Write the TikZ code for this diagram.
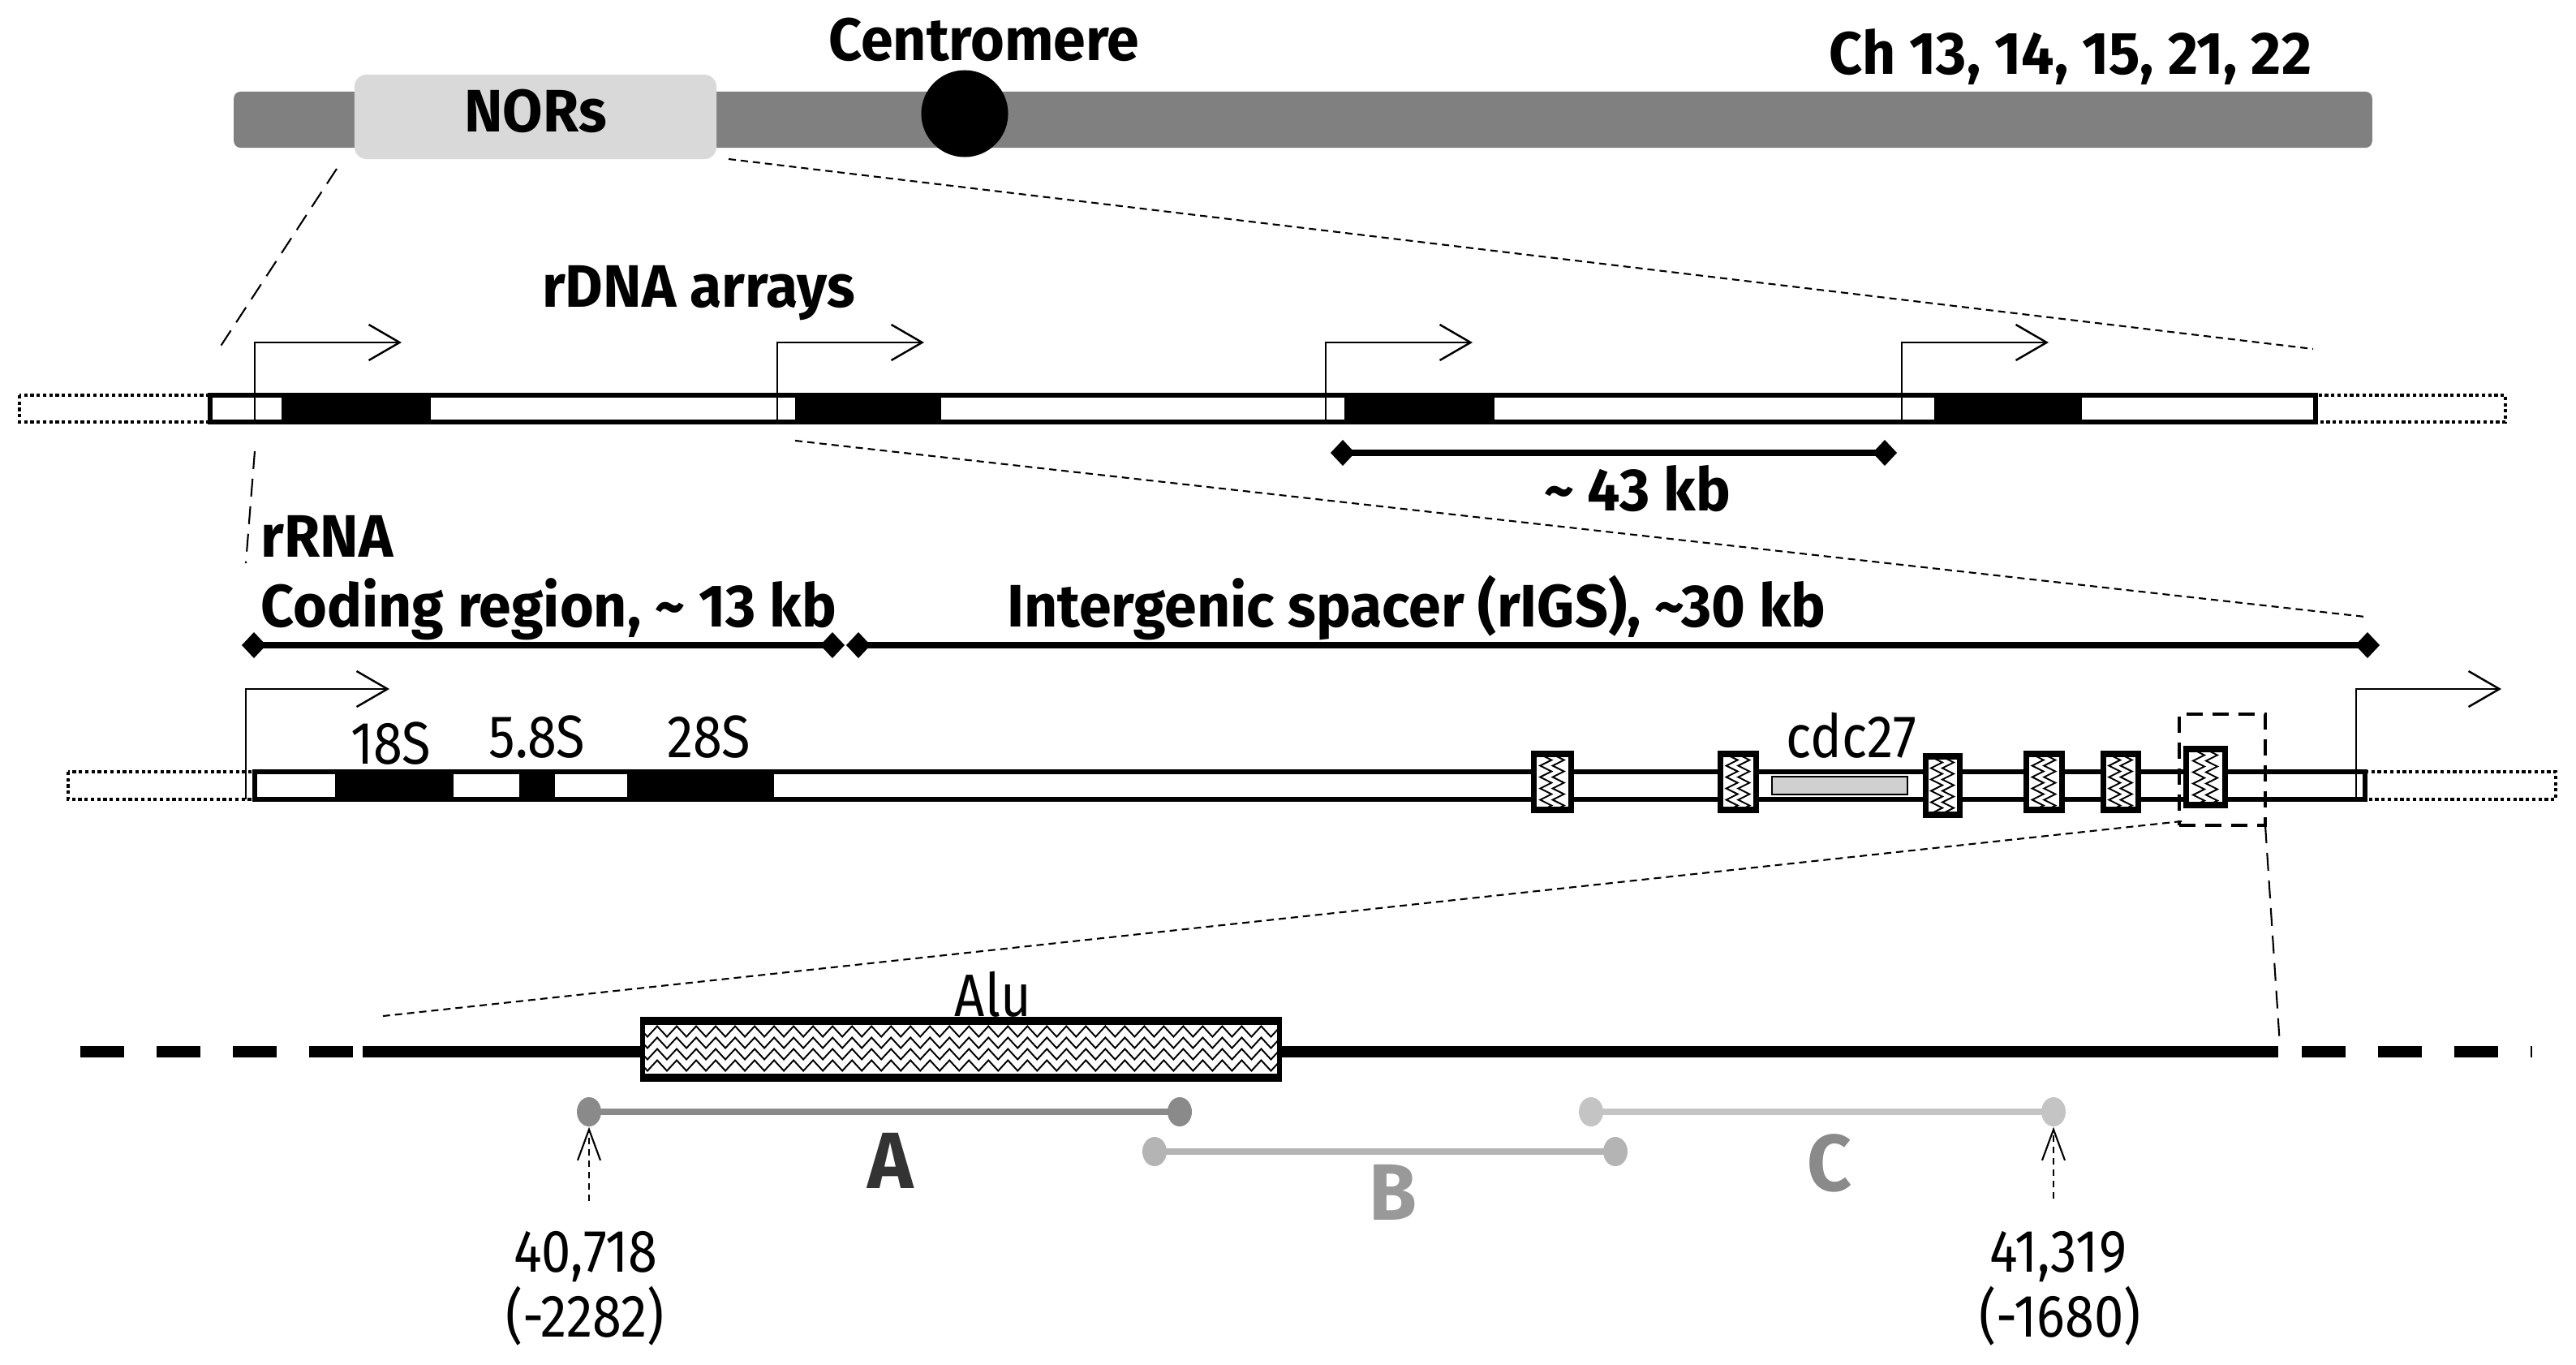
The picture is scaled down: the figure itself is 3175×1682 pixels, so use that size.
\documentclass[tikz,border=0pt]{standalone}
\usepackage{fontspec}
\setmainfont[FakeStretch=0.88]{Fira Sans}
\newfontfamily\boldf[FakeStretch=0.97]{Fira Sans}
\usetikzlibrary{arrows.meta,decorations.pathmorphing,shapes.geometric}
\definecolor{chrgray}{HTML}{808080}
\definecolor{norgray}{HTML}{D9D9D9}
\definecolor{cdcgray}{HTML}{D0D0D0}
\definecolor{segA}{HTML}{8A8A8A}
\definecolor{segB}{HTML}{B4B4B4}
\definecolor{segC}{HTML}{C4C4C4}
\definecolor{labA}{HTML}{333333}
\definecolor{labB}{HTML}{999999}
\definecolor{labC}{HTML}{8A8A8A}
\newcommand\myhatch[5]{%
  \fill[white] (#1,#2) rectangle (#3,#4);
  \begin{scope}
    \clip (#1,#2) rectangle (#3,#4);
    \draw[line width=0.55pt, decorate, decoration={zigzag, segment length=0.14cm, amplitude=0.07cm}]
      ({#1+(#3-#1)/3},{#2-10}) -- ({#1+(#3-#1)/3},{#4+10});
    \draw[line width=0.55pt, decorate, decoration={zigzag, segment length=0.14cm, amplitude=0.07cm}]
      ({#1+2*(#3-#1)/3},{#2-10}) -- ({#1+2*(#3-#1)/3},{#4+10});
  \end{scope}
  \node[draw, line width=2pt, minimum width={(#3-#1)*0.01cm}, minimum height={(#4-#2)*0.01cm}, inner sep=0] (#5) at ({(#1+#3)/2},{(#2+#4)/2}) {};}
\begin{document}
\begin{tikzpicture}[x=0.01cm,y=-0.01cm,
  lbl/.style={font=\boldf\fontsize{21}{25}\selectfont\bfseries, inner sep=0},
  rlbl/.style={font=\fontsize{21}{25}\selectfont, inner sep=0},
  bigl/.style={font=\boldf\fontsize{28}{32}\selectfont\bfseries, inner sep=0},
  zoomline/.style={line width=0.6pt, dash pattern=on 0.09cm off 0.06cm},
  longdash/.style={line width=0.6pt, dash pattern=on 0.22cm off 0.12cm},
  promoter/.style={line width=0.7pt, -{Straight Barb[length=0.38cm,width=0.44cm]}},
  measure/.style={line width=2pt, {Diamond[length=0.3cm,width=0.32cm]}-{Diamond[length=0.3cm,width=0.32cm]}},
  barframe/.style={draw=black, line width=1.5pt, fill=white},
  dotext/.style={draw=black, line width=1.2pt, densely dotted},
  segdot/.style={ellipse, minimum width=0.3cm, minimum height=0.36cm, inner sep=0},
  uparrow/.style={line width=0.6pt, dash pattern=on 0.08cm off 0.06cm, -{Straight Barb[length=0.38cm,width=0.28cm]}}
]
\useasboundingbox (0,0) rectangle (3175,1682);

% ---------- Row 1: chromosome ----------
\node[fill=chrgray, rounded corners=0.08cm, minimum width=26.34cm, minimum height=0.69cm, inner sep=0] (chr) at (1606,147.5) {};
\node[fill=norgray, rounded corners=0.15cm, minimum width=4.46cm, minimum height=1.04cm, inner sep=0] (nor) at (660,144) {};
\node[lbl, anchor=base] (nortxt) at (660,163) {NORs};
\node[circle, fill=black, minimum size=1.07cm, inner sep=0] (cen) at (1189,140) {};
\node[lbl, anchor=base] (centxt) at (1213,75) {Centromere};
\node[lbl, anchor=base] (chtxt) at (2552,92) {Ch 13, 14, 15, 21, 22};

\coordinate (z1a) at (415,208);
\coordinate (z1b) at (269,431);
\coordinate (z1c) at (898,196);
\coordinate (z1d) at (2851,430);
\draw[longdash] (z1a) -- (z1b);
\draw[zoomline] (z1c) -- (z1d);

% ---------- Row 2: rDNA arrays ----------
\node[lbl, anchor=base] (rdnatxt) at (861,378) {rDNA arrays};
\draw[dotext] (24,487) rectangle (259,520);
\draw[dotext] (2854,487) rectangle (3088,520);
\draw[barframe] (259,487) rectangle (2854,520);
\foreach \a/\b in {347/531, 980/1160, 1657/1842, 2384/2566}
  \fill (\a,485) rectangle (\b,522);
\foreach \x [count=\i] in {314,958,1634,2344} {
  \coordinate (pa\i) at (\x,520);
  \coordinate (pb\i) at (\x+181,422);
  \draw[promoter] (pa\i) |- (pb\i);
}
\coordinate (m43a) at (1640,558);
\coordinate (m43b) at (2338,558);
\draw[measure] (m43a) -- (m43b);
\node[lbl, anchor=base] (kb43) at (2018,629) {\textasciitilde\ 43 kb};

\coordinate (z2a) at (314,556);
\coordinate (z2b) at (303,694);
\coordinate (z2c) at (980,543);
\coordinate (z2d) at (2915,760);
\draw[longdash] (z2a) -- (z2b);
\draw[zoomline] (z2c) -- (z2d);

% ---------- Row 3: regions ----------
\node[lbl, anchor=base west] (rrna) at (321,686) {rRNA};
\node[lbl, anchor=base west] (coding) at (321,772) {Coding region, \textasciitilde\ 13 kb};
\node[lbl, anchor=base] (igs) at (1746,772) {Intergenic spacer (rIGS), \textasciitilde30 kb};
\coordinate (mca) at (298,795);
\coordinate (mcb) at (1041,795);
\coordinate (mia) at (1043,795);
\coordinate (mib) at (2933,795);
\draw[measure] (mca) -- (mcb);
\draw[measure] (mia) -- (mib);

% ---------- Row 4: unit ----------
\draw[dotext] (84,951) rectangle (314,985);
\draw[dotext] (2915,951) rectangle (3150,985);
\draw[barframe] (314,951) rectangle (2915,985);
\fill (413,949) rectangle (559,987);
\fill (640,949) rectangle (684,987);
\fill (773,949) rectangle (954,987);
\node[rlbl, anchor=base] (s18) at (482,941) {18S};
\node[rlbl, anchor=base] (s58) at (662,933) {5.8S};
\node[rlbl, anchor=base] (s28) at (874,933) {28S};
\draw[fill=cdcgray, line width=0.8pt] (2184,957) rectangle (2351,979);
\node[rlbl, anchor=base] (cdc) at (2282,933) {cdc27};
\myhatch{1890}{929}{1936}{998}{h1}
\myhatch{2120}{929}{2164}{998}{h2}
\myhatch{2373}{932}{2415}{1004}{h3}
\myhatch{2497}{929}{2541}{998}{h4}
\myhatch{2592}{929}{2635}{998}{h5}
\myhatch{2694}{923}{2742}{992}{h6}
\coordinate (q1a) at (303,985);
\coordinate (q1b) at (480,849);
\coordinate (q2a) at (2904,985);
\coordinate (q2b) at (3083,849);
\draw[promoter] (q1a) |- (q1b);
\draw[promoter] (q2a) |- (q2b);
\node[draw, line width=1.2pt, dash pattern=on 0.2cm off 0.12cm, minimum width=1.06cm, minimum height=1.37cm, inner sep=0] (zbox) at (2739,948.5) {};

\coordinate (z3a) at (2689,1012);
\coordinate (z3b) at (472,1252);
\coordinate (z3c) at (2792,1017);
\coordinate (z3d) at (2810,1288);
\draw[zoomline] (z3a) -- (z3b);
\draw[longdash] (z3c) -- (z3d);

% ---------- Row 5: detail ----------
\draw[line width=4pt] (447,1296) -- (2808,1296);
\draw[line width=4pt, dash pattern=on 0.54cm off 0.40cm] (99,1296) -- (435,1296);
\draw[line width=4pt, dash pattern=on 0.54cm off 0.40cm] (2837,1296) -- (3121,1296);
\fill[white] (792,1260) rectangle (1577,1326);
\begin{scope}
  \clip (792,1260) rectangle (1577,1326);
  \foreach \yy in {1271,1285,1299,1313}
    \draw[line width=0.55pt, decorate, decoration={zigzag, segment length=0.24cm, amplitude=0.065cm}] (780,\yy) -- (1600,\yy);
\end{scope}
\node[draw, line width=1.6pt, minimum width=7.85cm, minimum height=0.66cm, inner sep=0] (alu) at (1184.5,1293) {};
\draw[line width=2.2pt] (alu.north west) -- (alu.north east);
\draw[line width=2.2pt] (alu.south west) -- (alu.south east);
\node[rlbl, anchor=base] (alutxt) at (1224,1252) {Alu};

\node[segdot, fill=segA] (a1) at (726,1370) {};
\node[segdot, fill=segA] (a2) at (1454,1370) {};
\draw[segA, line width=2.3pt] (a1.center) -- (a2.center);
\node[segdot, fill=segB] (b1) at (1423,1419) {};
\node[segdot, fill=segB] (b2) at (1991,1419) {};
\draw[segB, line width=2.3pt] (b1.center) -- (b2.center);
\node[segdot, fill=segC] (c1) at (1961,1370) {};
\node[segdot, fill=segC] (c2) at (2531,1370) {};
\draw[segC, line width=2.3pt] (c1.center) -- (c2.center);
\node[bigl, text=labA, anchor=base] (la) at (1098,1464) {A};
\node[bigl, text=labB, anchor=base] (lb) at (1717,1503) {B};
\node[bigl, text=labC, anchor=base] (lc) at (2255,1467) {C};

\coordinate (u1) at (726,1480);
\coordinate (u2) at (2531,1477);
\draw[uparrow] (u1) -- (a1.south);
\draw[uparrow] (u2) -- (c2.south);
\node[rlbl, anchor=base] (n1) at (722,1567) {40,718};
\node[rlbl, anchor=base] (n1b) at (721,1647) {(-2282)};
\node[rlbl, anchor=base] (n2) at (2537,1567) {41,319};
\node[rlbl, anchor=base] (n2b) at (2539,1647) {(-1680)};
\end{tikzpicture}
\end{document}
